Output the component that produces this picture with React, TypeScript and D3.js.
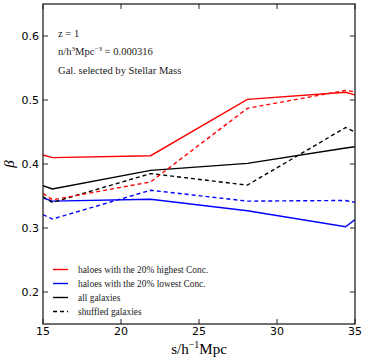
import React from 'react';
import * as d3 from 'd3';

// separation bins (edges at the frame plus the measured points)
const sep = [15, 15.6, 21.9, 28.1, 34.4, 35];

const highConc = [0.414, 0.410, 0.413, 0.501, 0.512, 0.508];
const highConcShuffled = [0.354, 0.344, 0.372, 0.487, 0.515, 0.513];
const allGal = [0.366, 0.361, 0.390, 0.401, 0.425, 0.427];
const allGalShuffled = [0.349, 0.340, 0.385, 0.367, 0.457, 0.450];
const lowConc = [0.347, 0.342, 0.345, 0.327, 0.302, 0.313];
const lowConcShuffled = [0.321, 0.314, 0.359, 0.342, 0.343, 0.340];

const xTicks = [15, 20, 25, 30, 35];
const yTicks = [0.2, 0.3, 0.4, 0.5, 0.6];

const legendLabels = [
  'haloes with the 20% highest Conc.',
  'haloes with the 20% lowest Conc.',
  'all galaxies',
  'shuffled galaxies',
];

const serif = '"Liberation Serif", "DejaVu Serif", serif';
const sans = '"DejaVu Sans", sans-serif';

export default function App() {
  var width = 366, height = 364;
  var margin = {top: 4, right: 11, bottom: 40, left: 43},
    w = width - margin.left - margin.right,
    h = height - margin.top - margin.bottom;

  var x = d3.scaleLinear().domain([15, 35]).range([0, w]);
  var y = d3.scaleLinear().domain([0.15, 0.65]).range([h, 0]);

  var line = d3.line<number>()
    .x((d, i) => x(sep[i]))
    .y(d => y(d));

  var series = [
    {vals: lowConcShuffled, color: '#0000ff', dash: '4,3'},
    {vals: lowConc, color: '#0000ff', dash: null},
    {vals: allGalShuffled, color: '#000000', dash: '4,3'},
    {vals: allGal, color: '#000000', dash: null},
    {vals: highConcShuffled, color: '#ff0000', dash: '4,3'},
    {vals: highConc, color: '#ff0000', dash: null},
  ];

  var legend = [
    {color: '#ff0000', dash: null},
    {color: '#0000ff', dash: null},
    {color: '#000000', dash: null},
    {color: '#000000', dash: '4,3'},
  ];

  var tick = 5;
  var frame = '#222';

  return (
    <svg width={width} height={height} style={{position: 'absolute', left: 0, top: 0, background: '#fff'}}>
      <defs>
        <clipPath id="plotclip">
          <rect x={0} y={0} width={w} height={h} />
        </clipPath>
      </defs>
      <g transform={'translate(' + margin.left + ',' + margin.top + ')'}>
        <g clipPath="url(#plotclip)">
          {series.map((s, i) => (
            <path key={i} d={line(s.vals) || ''} fill="none" stroke={s.color}
              strokeWidth={1.4} strokeDasharray={s.dash || undefined} />
          ))}
        </g>

        {/* ticks on all four sides, pointing in */}
        {xTicks.map(t => (
          <g key={'x' + t}>
            <line x1={x(t)} x2={x(t)} y1={h} y2={h - tick} stroke={frame} />
            <line x1={x(t)} x2={x(t)} y1={0} y2={tick} stroke={frame} />
            <text x={x(t)} y={h + 11} textAnchor="middle" fontFamily={sans} fontSize={11}>{t}</text>
          </g>
        ))}
        {yTicks.map(t => (
          <g key={'y' + t}>
            <line x1={0} x2={tick} y1={y(t)} y2={y(t)} stroke={frame} />
            <line x1={w} x2={w - tick} y1={y(t)} y2={y(t)} stroke={frame} />
            <text x={-4} y={y(t) + 4} textAnchor="end" fontFamily={sans} fontSize={11}>{t.toFixed(1)}</text>
          </g>
        ))}
        <rect x={0} y={0} width={w} height={h} fill="none" stroke={frame} strokeWidth={1.3} />

        {/* annotations */}
        <g fontFamily={serif} fontSize={10.6} fill="#222">
          <text x={15} y={33}>z = 1</text>
          <text x={15} y={51}>
            n/h<tspan fontSize={7} dy={-4}>3</tspan><tspan dy={4}>Mpc</tspan><tspan fontSize={7} dy={-4}>−3</tspan><tspan dy={4}> = 0.000316</tspan>
          </text>
          <text x={15} y={70}>Gal. selected by Stellar Mass</text>
        </g>

        {/* legend */}
        {legendLabels.map((lab, i) => (
          <g key={lab} transform={'translate(10,' + (265.5 + i * 14) + ')'}>
            <line x1={0} x2={15} y1={0} y2={0} stroke={legend[i].color} strokeWidth={1.4}
              strokeDasharray={legend[i].dash || undefined} />
            <text x={25} y={3} fontFamily={serif} fontSize={9.4} fill="#222">{lab}</text>
          </g>
        ))}
      </g>

      {/* axis labels */}
      <text x={margin.left + w / 2} y={354} textAnchor="middle" fontFamily={serif} fontSize={15}>
        s/h<tspan fontSize={10} dy={-6}>−1</tspan><tspan dy={6}>Mpc</tspan>
      </text>
      <text transform={'translate(14,' + 164 + ') rotate(-90)'} textAnchor="middle"
        fontFamily={serif} fontStyle="italic" fontSize={15}>β</text>
    </svg>
  );
}
